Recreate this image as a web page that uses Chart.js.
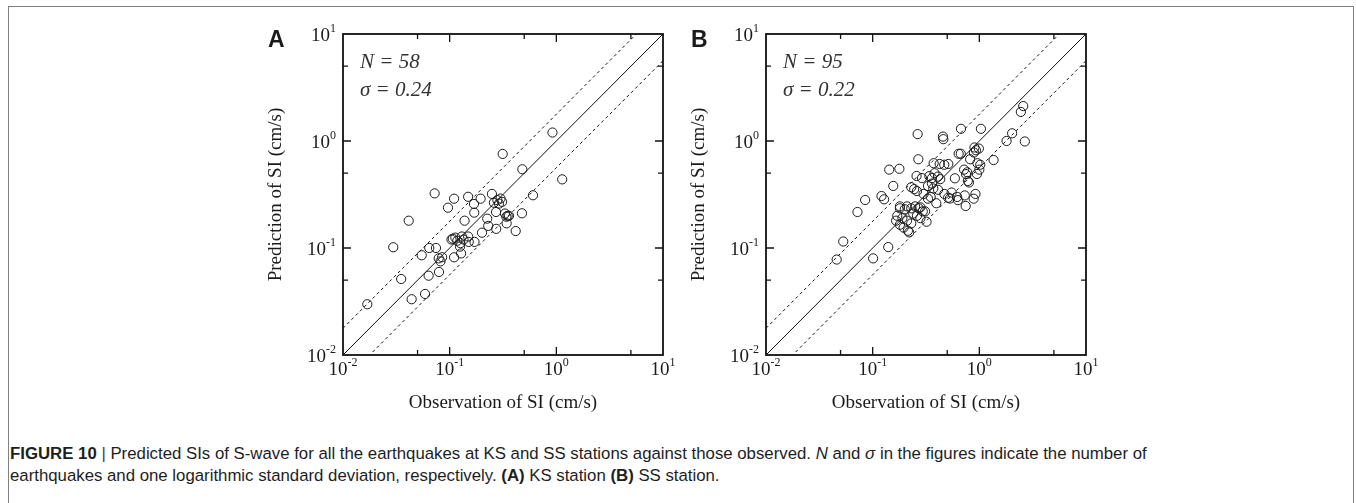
<!DOCTYPE html>
<html>
<head>
<meta charset="utf-8">
<script src="https://cdn.jsdelivr.net/npm/chart.js@4.4.1/dist/chart.umd.min.js"></script>
<style>
  body { margin: 0; background: #fff; width: 1356px; height: 503px; overflow: hidden; position: relative; }
  #frame { position: absolute; left: 8px; top: 6px; width: 1344px; height: 520px; border: 1px solid #808080; border-bottom: none; }
  .panel { position: absolute; top: 0; }
  #caption { position: absolute; left: 10px; top: 443px; font-family: "Liberation Sans", Arial, sans-serif; font-size: 16.8px; line-height: 22px; color: #1e1e1e; white-space: nowrap; }
  #caption .bar { color: #444; }
</style>
</head>
<body>
<div id="frame"></div>
<canvas id="chartA" class="panel" width="460" height="420" style="left:230px"></canvas>
<canvas id="chartB" class="panel" width="460" height="420" style="left:653px"></canvas>
<div id="caption">
  <div><b>FIGURE 10</b> <span class="bar">|</span> Predicted SIs of S-wave for all the earthquakes at KS and SS stations against those observed. <i>N</i> and <i>σ</i> in the figures indicate the number of</div>
  <div>earthquakes and one logarithmic standard deviation, respectively. <b>(A)</b> KS station <b>(B)</b> SS station.</div>
</div>
<script>
const obsA = [0.92, 0.314, 0.48, 1.135, 0.0723, 0.110, 0.0964, 0.149, 0.195, 0.169,
    0.170, 0.249, 0.30, 0.29, 0.31, 0.28, 0.26, 0.0413, 0.138, 0.272,
    0.225, 0.34, 0.33, 0.36, 0.476, 0.604, 0.342, 0.273, 0.416, 0.201,
    0.230, 0.107, 0.113, 0.118, 0.104, 0.149, 0.130, 0.126, 0.151, 0.171,
    0.0644, 0.0744, 0.0296, 0.0547, 0.079, 0.082, 0.085, 0.110, 0.128, 0.125,
    0.0351, 0.0635, 0.0794, 0.044, 0.0588, 0.0169, 0.35, 0.135];
const predA = [1.20, 0.757, 0.544, 0.438, 0.324, 0.289, 0.238, 0.301, 0.289, 0.258,
    0.214, 0.320, 0.29, 0.26, 0.27, 0.28, 0.265, 0.180, 0.180, 0.217,
    0.188, 0.196, 0.21, 0.20, 0.211, 0.311, 0.170, 0.151, 0.144, 0.139,
    0.161, 0.122, 0.125, 0.117, 0.120, 0.128, 0.128, 0.111, 0.114, 0.114,
    0.100, 0.100, 0.1016, 0.0855, 0.080, 0.075, 0.082, 0.0818, 0.089, 0.103,
    0.0513, 0.0551, 0.0597, 0.0332, 0.0372, 0.0298, 0.20, 0.120];

const obsB = [0.046, 0.053, 0.072, 0.085, 0.101, 0.121, 0.128, 0.143, 0.178, 0.140,
    0.156, 0.264, 0.456, 0.46, 0.673, 1.035, 2.03, 1.80, 2.67, 2.58,
    2.45, 1.36, 0.90, 0.93, 0.89, 0.268, 0.64, 0.67, 0.82, 0.373,
    0.425, 0.469, 0.512, 0.96, 1.02, 0.72, 0.77, 0.75, 0.59, 0.95,
    0.258, 0.34, 0.36, 0.41, 0.43, 0.78, 0.80, 0.23, 0.245, 0.26,
    0.33, 0.37, 0.41, 0.30, 0.33, 0.51, 0.53, 0.63, 0.73, 0.62,
    0.92, 0.885, 0.745, 0.395, 0.18, 0.20, 0.21, 0.23, 0.25, 0.27,
    0.295, 0.24, 0.26, 0.28, 0.32, 0.166, 0.18, 0.195, 0.214, 0.22,
    0.18, 0.17, 0.19, 0.21, 0.23, 0.28, 0.31, 0.35, 0.47, 0.55,
    0.29, 0.38, 0.99, 1.0, 0.36];
const predB = [0.078, 0.115, 0.217, 0.281, 0.080, 0.306, 0.285, 0.540, 0.550, 0.102,
    0.380, 1.16, 1.10, 1.04, 1.30, 1.30, 1.18, 1.00, 0.99, 2.12,
    1.87, 0.664, 0.87, 0.82, 0.78, 0.675, 0.76, 0.76, 0.675, 0.62,
    0.61, 0.60, 0.61, 0.62, 0.60, 0.54, 0.51, 0.49, 0.448, 0.492,
    0.471, 0.47, 0.45, 0.465, 0.44, 0.423, 0.41, 0.37, 0.355, 0.34,
    0.38, 0.36, 0.35, 0.32, 0.289, 0.295, 0.29, 0.28, 0.31, 0.30,
    0.32, 0.289, 0.247, 0.262, 0.245, 0.23, 0.245, 0.235, 0.245, 0.235,
    0.22, 0.21, 0.20, 0.19, 0.176, 0.18, 0.165, 0.155, 0.145, 0.14,
    0.235, 0.20, 0.19, 0.18, 0.17, 0.24, 0.22, 0.30, 0.32, 0.33,
    0.45, 0.50, 0.85, 0.54, 0.40];

const tickValues = [0.01, 0.1, 1, 10];
const tickExponents = ['-2', '-1', '0', '1'];
const minorTickValues = [0.05, 0.5, 5];
const panelLetters = ['A', 'B'];
const sampleCounts = ['58', '95'];
const sigmaLabels = ['0.24', '0.22'];
const bandOffset = [0.25, 0.25];   // log10 distance of the dashed lines
const xTitle = 'Observation of SI (cm/s)';
const yTitle = 'Prediction of SI (cm/s)';

const SERIF = '"Liberation Serif", "Times New Roman", serif';

function drawPower(ctx, exp, x, y, align) {
    // "10" with a raised exponent, y is the baseline of the digits
    ctx.font = '19px ' + SERIF;
    const wBase = ctx.measureText('10').width;
    ctx.font = '12px ' + SERIF;
    const wExp = ctx.measureText(exp).width;
    let start = align === 'right' ? x - wBase - wExp : x - (wBase + wExp) / 2;
    ctx.textAlign = 'left';
    ctx.textBaseline = 'alphabetic';
    ctx.font = '19px ' + SERIF;
    ctx.fillText('10', start, y);
    ctx.font = '12px ' + SERIF;
    ctx.fillText(exp, start + wBase, y - 9);
}

const frameAxes = {
    id: 'frameAxes',
    afterDraw(chart, args, opts) {
        const { ctx, chartArea: a, scales } = chart;
        const i = opts.index;
        ctx.save();
        ctx.strokeStyle = '#111';
        ctx.fillStyle = '#1a1a1a';

        // box
        ctx.lineWidth = 1.8;
        ctx.strokeRect(a.left, a.top, a.right - a.left, a.bottom - a.top);

        // inward ticks on all four sides
        ctx.lineWidth = 1.3;
        const mark = (vals, len) => {
            vals.forEach(v => {
                const px = scales.x.getPixelForValue(v);
                const py = scales.y.getPixelForValue(v);
                ctx.beginPath();
                ctx.moveTo(px, a.bottom); ctx.lineTo(px, a.bottom - len);
                ctx.moveTo(px, a.top); ctx.lineTo(px, a.top + len);
                ctx.moveTo(a.left, py); ctx.lineTo(a.left + len, py);
                ctx.moveTo(a.right, py); ctx.lineTo(a.right - len, py);
                ctx.stroke();
            });
        };
        mark(tickValues.slice(1, -1), 8);
        mark(minorTickValues, 5);

        // tick labels
        tickValues.forEach((v, k) => {
            const px = scales.x.getPixelForValue(v);
            const py = scales.y.getPixelForValue(v);
            drawPower(ctx, tickExponents[k], px, a.bottom + 20, 'center');
            drawPower(ctx, tickExponents[k], a.left - 7, py + 7, 'right');
        });

        // axis titles
        ctx.font = '19px ' + SERIF;
        ctx.textAlign = 'center';
        ctx.textBaseline = 'alphabetic';
        ctx.fillText(xTitle, (a.left + a.right) / 2, a.bottom + 53);
        ctx.save();
        ctx.translate(a.left - 62, (a.top + a.bottom) / 2);
        ctx.rotate(-Math.PI / 2);
        ctx.fillText(yTitle, 0, 0);
        ctx.restore();

        // panel letter
        ctx.font = 'bold 23px "Liberation Sans", Arial, sans-serif';
        ctx.textAlign = 'left';
        ctx.fillText(panelLetters[i], a.left - 75, a.top + 13);

        // N and sigma
        ctx.font = 'italic 21px ' + SERIF;
        ctx.fillStyle = '#333';
        ctx.fillText('N = ' + sampleCounts[i], a.left + 17, a.top + 34);
        ctx.fillText('σ = ' + sigmaLabels[i], a.left + 17, a.top + 62);
        ctx.restore();
    }
};

function makePanel(canvasId, i, obs, pred) {
    const f = Math.pow(10, bandOffset[i]);
    const points = obs.map((x, k) => ({ x: x, y: pred[k] }));
    const lineStyle = { type: 'line', borderColor: '#111', borderWidth: 1, pointRadius: 0, fill: false };
    return new Chart(document.getElementById(canvasId), {
        type: 'scatter',
        data: {
            datasets: [
                { data: points, pointRadius: 4.6, pointHoverRadius: 4.6, borderColor: '#1a1a1a',
                  borderWidth: 1, backgroundColor: 'rgba(0,0,0,0)' },
                Object.assign({ data: [{ x: 0.01, y: 0.01 }, { x: 10, y: 10 }] }, lineStyle),
                Object.assign({ data: [{ x: 0.01, y: 0.01 * f }, { x: 10, y: 10 * f }], borderDash: [3, 3] }, lineStyle),
                Object.assign({ data: [{ x: 0.01, y: 0.01 / f }, { x: 10, y: 10 / f }], borderDash: [3, 3] }, lineStyle)
            ]
        },
        options: {
            responsive: false,
            animation: false,
            devicePixelRatio: 1,
            layout: { padding: { left: 113, right: 27, top: 34, bottom: 65 } },
            scales: {
                x: { type: 'logarithmic', min: 0.01, max: 10, display: false },
                y: { type: 'logarithmic', min: 0.01, max: 10, display: false }
            },
            plugins: {
                legend: { display: false },
                tooltip: { enabled: false },
                frameAxes: { index: i }
            }
        },
        plugins: [frameAxes]
    });
}

makePanel('chartA', 0, obsA, predA);
makePanel('chartB', 1, obsB, predB);
</script>
</body>
</html>
